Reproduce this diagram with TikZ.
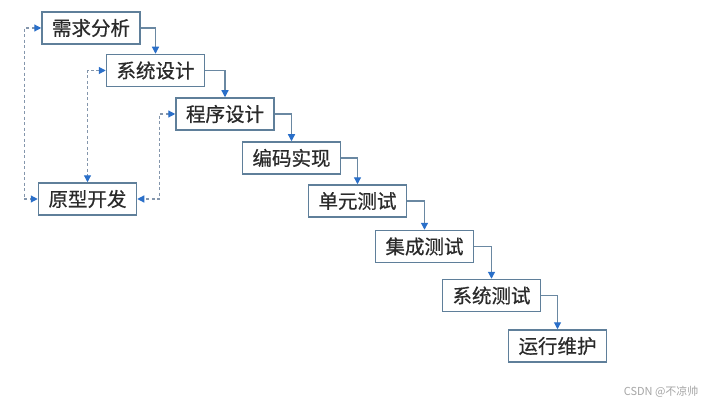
\documentclass[tikz,border=0pt]{standalone}
\usepackage{fontspec}
\newfontfamily\cjk{Noto Sans CJK SC}
\newfontfamily\cjkb[FakeBold=0.6]{Noto Sans CJK SC}
\usetikzlibrary{arrows.meta}
\definecolor{boxline}{HTML}{5F7F9A}
\definecolor{conn}{HTML}{6A88A2}
\definecolor{tipblue}{HTML}{2A6FC9}
\definecolor{dashc}{HTML}{8496AC}
\definecolor{txt}{HTML}{2A2A2A}
\tikzset{
  stage/.style={draw=boxline, line width=1.5pt, fill=white, minimum width=98pt, minimum height=32pt, inner sep=0pt, font=\cjkb\fontsize{19.5}{21}\selectfont, text=txt},
  flow/.style={draw=conn, line width=1.2pt, -{Triangle[length=7pt,width=7pt,fill=tipblue,color=tipblue]}},
  proto/.style={draw=dashc, line width=1.2pt, dash pattern=on 3pt off 2.5pt, {Triangle[length=7pt,width=7pt,fill=tipblue,color=tipblue]}-{Triangle[length=7pt,width=7pt,fill=tipblue,color=tipblue]}}
}
\begin{document}
\begin{tikzpicture}[x=1pt,y=-1pt]
\fill[white] (0,0) rectangle (708,406);
\useasboundingbox (0,0) rectangle (708,406);
\node[stage] (b1) at (91,28) {需求分析};
\node[stage] (b2) at (155.5,70.5) {系统设计};
\node[stage] (b3) at (225,114) {程序设计};
\node[stage] (b4) at (291.5,158) {编码实现};
\node[stage] (b5) at (357.5,201) {单元测试};
\node[stage] (b6) at (424.5,246.5) {集成测试};
\node[stage] (b7) at (491.5,295.5) {系统测试};
\node[stage] (b8) at (557.5,346) {运行维护};
\node[stage] (p) at (87.5,199) {原型开发};
\draw[flow] (b1.east) -| (b2.north);
\draw[flow] (b2.east) -| (b3.north);
\draw[flow] (b3.east) -| (b4.north);
\draw[flow] (b4.east) -| (b5.north);
\draw[flow] (b5.east) -| (b6.north);
\draw[flow] (b6.east) -| (b7.north);
\draw[flow] (b7.east) -| (b8.north);
\draw[proto] (b1.west) -- ++(-17,0) |- (p.west);
\draw[proto] (b2.west) -| (p.north);
\draw[proto] (b3.west) -- ++(-16,0) |- (p.east);
\node[font=\cjk\fontsize{11}{12}\selectfont, text=black!35, anchor=east] (wm) at (702,392) {CSDN @不凉帅};
\end{tikzpicture}
\end{document}
